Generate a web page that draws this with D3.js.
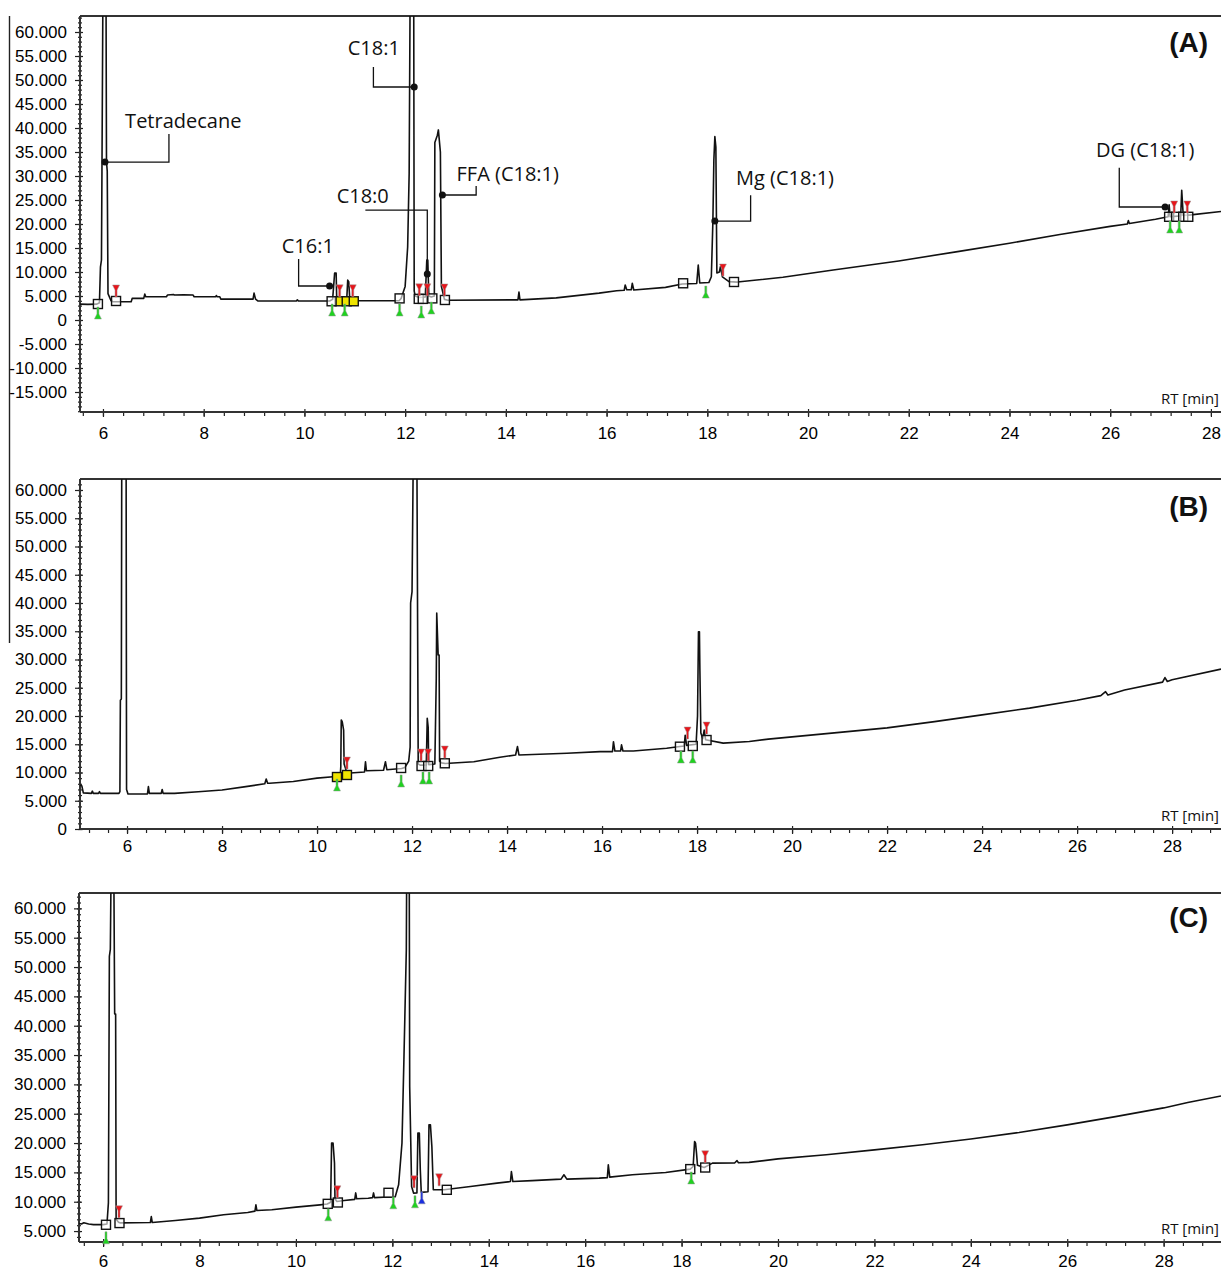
<!DOCTYPE html>
<html>
<head>
<meta charset="utf-8">
<script src="https://cdn.jsdelivr.net/npm/d3@7"></script>
<style>
  body { margin: 0; background: #fff; }
  svg { display: block; }
  .tick text { font-family: "Liberation Sans", Arial, sans-serif; font-size: 17px; fill: #000; }
  .tick line { stroke: #222; stroke-width: 1.2; }
  .peak-label { font-family: "Open Sans", sans-serif; font-size: 20px; fill: #111; }
  .rt-label { font-family: "Open Sans", sans-serif; font-size: 15px; fill: #111; }
  .panel-label { font-family: "Liberation Sans", Arial, sans-serif; font-weight: bold; font-size: 28px; fill: #111; }
  .trace { fill: none; stroke: #111; stroke-width: 1.6; stroke-linejoin: round; }
  .frame { stroke: #333; stroke-width: 2; }
</style>
</head>
<body>
<svg id="chart" width="1221" height="1271"></svg>
<script>
// ---- data: [retention time (min), signal] ----

var traceA = [
  [5.54,3300],[5.70,3250],[5.88,3300],[5.93,3600],[5.95,11000],[5.97,12500],[5.98,31000],[6.00,70000],
  [6.06,70000],[6.07,33000],[6.085,31000],[6.10,5500],[6.16,4000],[6.20,3800],[6.56,3800],[6.58,4500],
  [6.81,4500],[6.83,5400],[6.85,4850],[7.26,4850],[7.28,5200],[7.40,5300],[7.42,5200],[7.60,5250],
  [7.79,5200],[7.81,4850],[8.24,4850],[8.25,5100],[8.27,4850],[8.32,4850],[8.34,4350],[8.98,4350],
  [9.00,5600],[9.03,4350],[9.08,3950],[9.84,3950],[9.86,4200],[9.88,3950],[10.50,3950],[10.56,4300],
  [10.58,7000],[10.60,9800],[10.63,9800],[10.64,5000],[10.70,4300],[10.84,4200],[10.86,8300],[10.88,8000],
  [10.90,4500],[11.00,4000],[11.88,4000],[11.92,4500],[12.00,7000],[12.05,15200],[12.08,30600],[12.10,70000],
  [12.17,70000],[12.18,6000],[12.20,5000],[12.28,4700],[12.40,4800],[12.43,12500],[12.45,12500],[12.47,5000],
  [12.52,4800],[12.58,5000],[12.59,37000],[12.64,38500],[12.66,39600],[12.70,35000],[12.72,7000],[12.78,4300],
  [12.85,4100],[14.20,4200],[14.24,4200],[14.26,5800],[14.28,4200],[15.00,4600],[15.85,5600],[16.20,6100],
  [16.35,6200],[16.37,7300],[16.40,6300],[16.49,6300],[16.51,7650],[16.54,6250],[17.17,6800],[17.50,7500],
  [17.79,7600],[17.82,11460],[17.85,7700],[18.03,7800],[18.08,9000],[18.11,20200],[18.13,33300],[18.15,38200],
  [18.17,36000],[18.19,9800],[18.24,10000],[18.26,11100],[18.30,9000],[18.43,8000],[18.60,7900],[19.50,8900],
  [20.50,10400],[21.80,12300],[23.00,14300],[24.00,16000],[25.00,17800],[26.00,19500],[26.34,20000],[26.36,20700],
  [26.38,20100],[26.90,21000],[27.10,21400],[27.15,21500],[27.17,24000],[27.19,21500],[27.40,21700],[27.42,27000],
  [27.45,21800],[27.60,21900],[28.20,22600]
];

var traceB = [
  [5.01,7800],[5.05,7600],[5.08,6400],[5.25,6300],[5.27,6700],[5.29,6300],[5.40,6300],[5.42,6600],
  [5.44,6300],[5.83,6300],[5.85,6600],[5.86,22800],[5.88,23000],[5.89,70000],[5.98,70000],[5.99,7000],
  [6.02,6200],[6.43,6200],[6.45,7500],[6.47,6300],[6.72,6300],[6.74,7000],[6.76,6300],[7.00,6300],
  [7.50,6600],[8.00,6900],[8.50,7500],[8.90,8000],[8.93,8850],[8.96,8100],[9.00,8100],[9.50,8400],
  [10.00,9000],[10.40,9300],[10.49,9600],[10.50,11000],[10.51,19300],[10.53,19000],[10.56,17500],[10.57,11500],
  [10.62,10200],[10.70,9900],[11.00,10100],[11.02,11900],[11.04,10300],[11.40,10400],[11.44,11900],[11.47,10500],
  [11.78,10700],[11.85,10900],[11.93,12000],[11.96,14500],[11.97,40000],[12.00,42000],[12.03,70000],[12.10,70000],
  [12.13,11500],[12.17,11300],[12.30,11300],[12.32,19600],[12.34,18000],[12.35,11400],[12.48,11500],[12.51,26700],
  [12.52,38200],[12.55,30800],[12.57,30800],[12.58,12000],[12.62,11700],[12.70,11600],[13.30,11900],[13.85,12700],
  [14.18,13100],[14.22,14600],[14.25,13100],[15.26,13400],[15.96,13700],[16.22,13700],[16.24,15450],[16.27,13800],
  [16.39,13800],[16.41,14900],[16.44,13800],[16.66,13800],[17.36,14300],[17.64,14600],[17.73,14700],[17.75,16600],
  [17.78,14800],[17.98,15000],[18.01,20000],[18.03,34900],[18.05,34900],[18.06,28000],[18.08,17000],[18.12,16000],
  [18.15,17500],[18.18,15800],[18.55,15200],[19.10,15500],[19.50,15900],[20.00,16300],[21.00,17100],[22.00,17900],
  [23.00,19000],[24.00,20200],[25.00,21400],[26.00,22800],[26.50,23600],[26.60,24300],[26.65,23700],[27.00,24600],
  [27.80,26000],[27.85,26800],[27.90,26100],[28.00,26400],[29.03,28300]
];

var traceC = [
  [5.50,6300],[5.55,6200],[5.60,6400],[5.70,6200],[5.80,6100],[6.00,6100],[6.08,6200],[6.11,9800],
  [6.13,51800],[6.15,53000],[6.17,70000],[6.22,70000],[6.24,42000],[6.26,42000],[6.27,7000],[6.32,6500],
  [6.35,6400],[6.98,6450],[7.00,7480],[7.02,6450],[7.50,6800],[8.00,7200],[8.50,7770],[9.00,8160],
  [9.15,8400],[9.17,9470],[9.19,8500],[9.50,8620],[10.00,9080],[10.50,9470],[10.65,9600],[10.72,9900],
  [10.74,20000],[10.77,20000],[10.80,16600],[10.81,10500],[10.85,10040],[11.00,10200],[11.22,10400],[11.24,11500],
  [11.26,10500],[11.50,10600],[11.59,10700],[11.61,11500],[11.63,10700],[11.90,10800],[12.06,10840],[12.13,12880],
  [12.20,20000],[12.24,34180],[12.29,52900],[12.30,70000],[12.35,70000],[12.36,29630],[12.40,12600],[12.44,11470],
  [12.51,11500],[12.53,21700],[12.56,21700],[12.58,15440],[12.60,11600],[12.74,11700],[12.76,23100],[12.79,23100],
  [12.82,19400],[12.85,12030],[13.07,12030],[13.62,12600],[14.17,13170],[14.45,13440],[14.47,15150],[14.50,13440],
  [14.90,13600],[15.50,13850],[15.56,14590],[15.62,13850],[16.29,14020],[16.46,14100],[16.48,16290],[16.51,14200],
  [16.98,14590],[17.67,14980],[18.18,15560],[18.24,16000],[18.27,20260],[18.29,20000],[18.31,18280],[18.33,16200],
  [18.47,15830],[18.64,16580],[19.10,16600],[19.15,17000],[19.18,16650],[19.40,16700],[20.00,17300],[21.00,18000],
  [22.00,18840],[23.00,19700],[24.00,20700],[25.00,21800],[26.00,23100],[27.00,24500],[28.00,25990],[28.50,26900],
  [29.19,28030]
];

// integration markers: peak boxes, peak start (green), peak end (red)
var boxesA = [[5.90,3330],[6.26,3960],[10.54,3900],[11.89,4500],[12.27,4400],[12.35,4400],[12.54,4500],
  [12.79,4170],[17.52,7650],[18.53,7920],[27.17,21500],[27.31,21500],[27.45,21500],[27.55,21500]];
var selectedBoxesA = [[10.70,3900],[10.84,3900],[10.98,3900]];
var startsA = [[5.90,3540],[10.55,4170],[10.80,4170],[11.89,4170],[12.32,3750],[12.52,4580],[17.97,7900],[27.19,21460],[27.37,21460]];
var endsA = [[6.26,3960],[10.70,4000],[10.96,4000],[12.28,4200],[12.44,4200],[12.78,4170],[18.31,8330],[27.27,21460],[27.53,21460]];

var boxesB = [[11.77,10800],[12.20,11150],[12.34,11150],[12.69,11630],[17.64,14570],[17.91,14690],[18.20,15750]];
var selectedBoxesB = [[10.42,9200],[10.63,9560]];
var startsB = [[10.42,9560],[11.77,10270],[12.23,10800],[12.36,10800],[17.66,14510],[17.91,14510]];
var endsB = [[10.63,9910],[12.19,11330],[12.34,11330],[12.69,11860],[17.80,15220],[18.20,16100]];

var boxesC = [[6.06,6070],[6.34,6360],[10.66,9640],[10.87,9870],[11.92,11520],[13.13,12030],[18.18,15560],[18.49,15830]];
var startsC = [[6.06,5550],[10.67,9470],[12.02,11520],[12.47,11690],[18.20,15760]];
var valleyStartsC = [[12.61,12370]];
var endsC = [[6.33,6580],[10.86,9980],[12.45,11690],[12.97,12030],[18.49,15950]];

// peak names in (A): label anchor, leader line, identified point
var peakNames = ['Tetradecane', 'C18:1', 'C16:1', 'C18:0', 'FFA (C18:1)', 'Mg (C18:1)', 'DG (C18:1)'];
var peakLabelAt = [[6.44,40000],[10.86,55200],[9.55,13960],[10.64,24400],[13.02,28960],[18.57,28100],[25.72,33960]];
var peakLeaders = [
  [[7.31,38750],[7.31,32900],[6.04,32900]],
  [[11.37,52700],[11.37,48540],[12.18,48540]],
  [[9.885,12700],[9.885,7080],[10.50,7080]],
  [[11.21,22900],[12.44,22900],[12.44,9580]],
  [[13.41,27900],[13.41,26040],[12.74,26040]],
  [[18.86,26000],[18.86,20600],[18.15,20600]],
  [[26.18,31700],[26.18,23540],[27.09,23540]]
];

// axis ticks
var timeTicksA = [6, 8, 10, 12, 14, 16, 18, 20, 22, 24, 26, 28];
var timeTicksB = [6, 8, 10, 12, 14, 16, 18, 20, 22, 24, 26, 28];
var timeTicksC = [6, 8, 10, 12, 14, 16, 18, 20, 22, 24, 26, 28];
var signalTicksA = [-15000, -10000, -5000, 0, 5000, 10000, 15000, 20000, 25000, 30000, 35000, 40000, 45000, 50000, 55000, 60000];
var signalTicksB = [0, 5000, 10000, 15000, 20000, 25000, 30000, 35000, 40000, 45000, 50000, 55000, 60000];
var signalTicksC = [5000, 10000, 15000, 20000, 25000, 30000, 35000, 40000, 45000, 50000, 55000, 60000];

var svg = d3.select('#chart');
var fmt = d3.formatLocale({ decimal: ',', thousands: '.', grouping: [3], currency: ['', ''], minus: '-' }).format(',d');

var panels = [
  { id: 'A', left: 80, top: 16, bottom: 412, xDomain: [5.544, 28.2], yDomain: [-19167, 63333],
    trace: traceA, timeTicks: timeTicksA, signalTicks: signalTicksA, labelPad: 10, rtY: 404, tagY: 52,
    boxes: boxesA, selected: selectedBoxesA, starts: startsA, valleys: [], ends: endsA },
  { id: 'B', left: 80, top: 479, bottom: 829, xDomain: [5.01, 29.03], yDomain: [0, 61946],
    trace: traceB, timeTicks: timeTicksB, signalTicks: signalTicksB, labelPad: 6, rtY: 821, tagY: 516,
    boxes: boxesB, selected: selectedBoxesB, starts: startsB, valleys: [], ends: endsB },
  { id: 'C', left: 79, top: 893, bottom: 1242, xDomain: [5.50, 29.19], yDomain: [3135, 62620],
    trace: traceC, timeTicks: timeTicksC, signalTicks: signalTicksC, labelPad: 8, rtY: 1234, tagY: 927,
    boxes: boxesC, selected: [], starts: startsC, valleys: valleyStartsC, ends: endsC }
];

// stray rule at the far left of the original figure
svg.append('line').attr('x1', 9.5).attr('x2', 9.5).attr('y1', 16).attr('y2', 643)
  .attr('stroke', '#222').attr('stroke-width', 1.4);

panels.forEach(drawPanel);

/**
 * Draw one chromatogram panel: frame, axes, trace and the integration markers.
 */
function drawPanel(p) {
  var right = 1221;
  var x = d3.scaleLinear().domain(p.xDomain).range([p.left, right]);
  var y = d3.scaleLinear().domain(p.yDomain).range([p.bottom, p.top]);
  var g = svg.append('g').attr('class', 'panel-' + p.id);

  g.append('clipPath').attr('id', 'clip-' + p.id)
    .append('rect').attr('x', p.left).attr('y', p.top).attr('width', right - p.left).attr('height', p.bottom - p.top);

  // y axis: minor ticks every 1.000, labelled ticks every 5.000
  var yMinor = d3.range(Math.ceil(p.yDomain[0] / 1000) * 1000, p.yDomain[1], 1000);
  g.append('g').attr('transform', 'translate(' + p.left + ',0)')
    .call(d3.axisLeft(y).tickValues(yMinor).tickFormat('').tickSizeInner(2).tickSizeOuter(0))
    .call(function (s) { s.select('.domain').remove(); s.selectAll('.tick line').attr('x1', 2); });
  g.append('g').attr('transform', 'translate(' + p.left + ',0)')
    .call(d3.axisLeft(y).tickValues(p.signalTicks).tickFormat(fmt).tickSizeInner(5).tickSizeOuter(0).tickPadding(8))
    .call(function (s) { s.select('.domain').remove(); s.selectAll('.tick line').attr('x1', 3); });

  // x axis: minor ticks every 0,4 min
  var xMinor = d3.range(Math.ceil(p.xDomain[0] / 0.4) * 0.4, p.xDomain[1], 0.4);
  g.append('g').attr('transform', 'translate(0,' + p.bottom + ')')
    .call(d3.axisBottom(x).tickValues(xMinor).tickFormat('').tickSizeInner(4).tickSizeOuter(0))
    .call(function (s) { s.select('.domain').remove(); });
  g.append('g').attr('transform', 'translate(0,' + p.bottom + ')')
    .call(d3.axisBottom(x).tickValues(p.timeTicks).tickFormat(d3.format('d')).tickSizeInner(5).tickSizeOuter(0).tickPadding(p.labelPad))
    .call(function (s) { s.select('.domain').remove(); s.selectAll('.tick line').attr('y1', -3); });

  // frame: left axis, bottom axis, top rule
  g.append('line').attr('class', 'frame').attr('x1', p.left).attr('x2', p.left).attr('y1', p.top).attr('y2', p.bottom);
  g.append('line').attr('class', 'frame').attr('x1', p.left).attr('x2', right).attr('y1', p.bottom).attr('y2', p.bottom);
  g.append('line').attr('class', 'frame').attr('x1', p.left).attr('x2', right).attr('y1', p.top).attr('y2', p.top);

  var line = d3.line().x(function (d) { return x(d[0]); }).y(function (d) { return y(d[1]); });
  g.append('path').attr('class', 'trace').attr('clip-path', 'url(#clip-' + p.id + ')')
    .attr('d', line(p.trace));

  // peak boxes
  var boxSize = 9;
  g.selectAll('rect.box').data(p.selected.concat(p.boxes)).enter().append('rect')
    .attr('class', 'box')
    .attr('x', function (d) { return x(d[0]) - boxSize / 2; })
    .attr('y', function (d) { return y(d[1]) - boxSize / 2; })
    .attr('width', boxSize).attr('height', boxSize)
    .attr('fill', function (d, i) { return i < p.selected.length ? '#efe400' : '#fff'; })
    .attr('fill-opacity', function (d, i) { return i < p.selected.length ? 1 : 0.6; })
    .attr('stroke', '#111').attr('stroke-width', 1.4);

  // peak end markers (red, above) and start markers (green/blue, below)
  g.selectAll('path.end').data(p.ends).enter().append('path')
    .attr('class', 'end')
    .attr('d', function (d) { return flag(x(d[0]), y(d[1]), -1); })
    .attr('fill', '#e8141a').attr('stroke', '#999').attr('stroke-width', 0.5);
  g.selectAll('path.start').data(p.starts).enter().append('path')
    .attr('class', 'start')
    .attr('d', function (d) { return flag(x(d[0]), y(d[1]), 1); })
    .attr('fill', '#1fd21f').attr('stroke', '#999').attr('stroke-width', 0.5);
  g.selectAll('path.valley').data(p.valleys).enter().append('path')
    .attr('class', 'valley')
    .attr('d', function (d) { return flag(x(d[0]), y(d[1]), 1); })
    .attr('fill', '#1a2ee0').attr('stroke', '#999').attr('stroke-width', 0.5);

  g.append('text').attr('class', 'rt-label').attr('x', 1219).attr('y', p.rtY)
    .attr('text-anchor', 'end').text('RT [min]');
  g.append('text').attr('class', 'panel-label').attr('x', 1208).attr('y', p.tagY)
    .attr('text-anchor', 'end').text('(' + p.id + ')');

  if (p.id === 'A') drawPeakNames(g, x, y);
}

/**
 * Marker shaped like a pin: a thin stem away from the baseline ending in a
 * wide head. dir = -1 draws it upwards, +1 downwards.
 */
function flag(cx, cy, dir) {
  var a = cy + dir * 4, b = cy + dir * 11, c = cy + dir * 16;
  return 'M' + (cx - 1) + ',' + a + 'L' + (cx + 1) + ',' + a + 'L' + (cx + 1) + ',' + b +
    'L' + (cx + 3.5) + ',' + c + 'L' + (cx - 3.5) + ',' + c + 'L' + (cx - 1) + ',' + b + 'Z';
}

/**
 * Names of the identified peaks in panel A with their leader lines.
 */
function drawPeakNames(g, x, y) {
  var line = d3.line().x(function (d) { return x(d[0]); }).y(function (d) { return y(d[1]); });
  g.selectAll('path.leader').data(peakLeaders).enter().append('path')
    .attr('class', 'leader').attr('d', line)
    .attr('fill', 'none').attr('stroke', '#111').attr('stroke-width', 1.3);
  g.selectAll('circle.hit').data(peakLeaders).enter().append('circle')
    .attr('class', 'hit')
    .attr('cx', function (d) { return x(d[d.length - 1][0]); })
    .attr('cy', function (d) { return y(d[d.length - 1][1]); })
    .attr('r', 3.5).attr('fill', '#111');
  g.selectAll('text.peak-label').data(peakNames).enter().append('text')
    .attr('class', 'peak-label')
    .attr('x', function (d, i) { return x(peakLabelAt[i][0]); })
    .attr('y', function (d, i) { return y(peakLabelAt[i][1]); })
    .text(function (d) { return d; });
}
</script>
</body>
</html>
